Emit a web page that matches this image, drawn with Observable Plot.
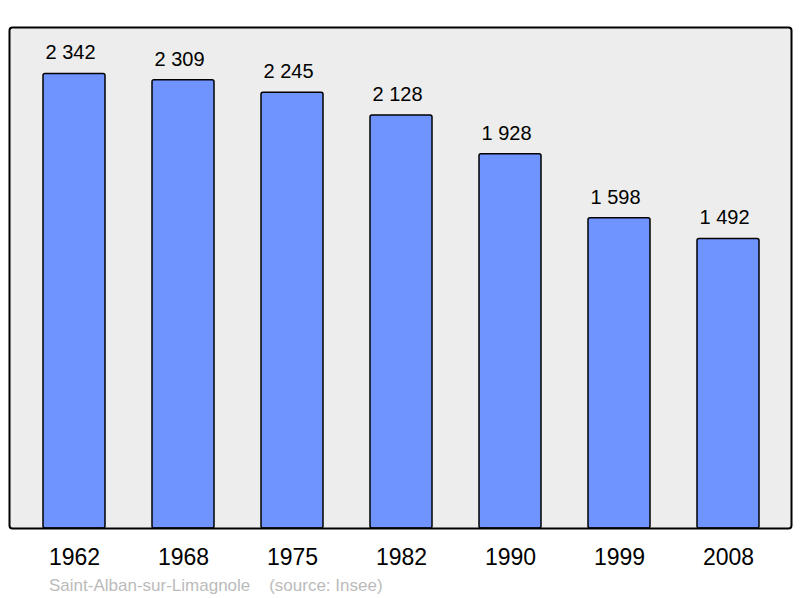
<!DOCTYPE html>
<html>
<head>
<meta charset="utf-8">
<script src="https://cdn.jsdelivr.net/npm/d3@7"></script>
<script src="https://cdn.jsdelivr.net/npm/@observablehq/plot@0.6"></script>
<style>
  body { margin: 0; background: #fff; font-family: "Liberation Sans", Arial, sans-serif; }
  #chart svg { display: block; }
  #caption { height: 22px; padding-top: 4px; padding-left: 49px; font-size: 17px; line-height: 20px; color: #bbbbbb; white-space: pre; font-family: "Liberation Sans", Arial, sans-serif; }
</style>
</head>
<body>
<div id="chart"></div>
<div id="caption">Saint-Alban-sur-Limagnole    (source: Insee)</div>
<script>
const years = ["1962", "1968", "1975", "1982", "1990", "1999", "2008"];
const population = [2342, 2309, 2245, 2128, 1928, 1598, 1492];

const data = years.map((y, i) => ({year: y, pop: population[i]}));
const fmt = d3.formatLocale({thousands: " ", grouping: [3], decimal: ",", currency: ["", ""]}).format(",d");

const chart = Plot.plot({
  width: 800,
  height: 572,
  marginTop: 27,
  marginBottom: 44,
  marginLeft: 9,
  marginRight: 9,
  style: {fontFamily: "Liberation Sans, Arial, sans-serif", background: "#fff"},
  x: {type: "band", domain: years, paddingInner: 0.433, paddingOuter: 0.28, insetLeft: 2, label: null},
  y: {domain: [0, 2581], axis: null},
  marks: [
    Plot.frame({fill: "#ededed", stroke: "none", rx: 3}),
    Plot.barY(data, {x: "year", y: "pop", fill: "#7094ff", stroke: "#000", strokeWidth: 1.5, rx: 2}),
    Plot.text(data, {x: "year", y: "pop", text: d => fmt(d.pop), dy: -21, dx: -4, fontSize: 20, fill: "#000"}),
    Plot.frame({stroke: "#000", strokeWidth: 2, rx: 3}),
    Plot.axisX({tickSize: 0, tickPadding: 20, fontSize: 23, color: "#000", label: null})
  ]
});
document.getElementById("chart").appendChild(chart);
</script>
</body>
</html>
